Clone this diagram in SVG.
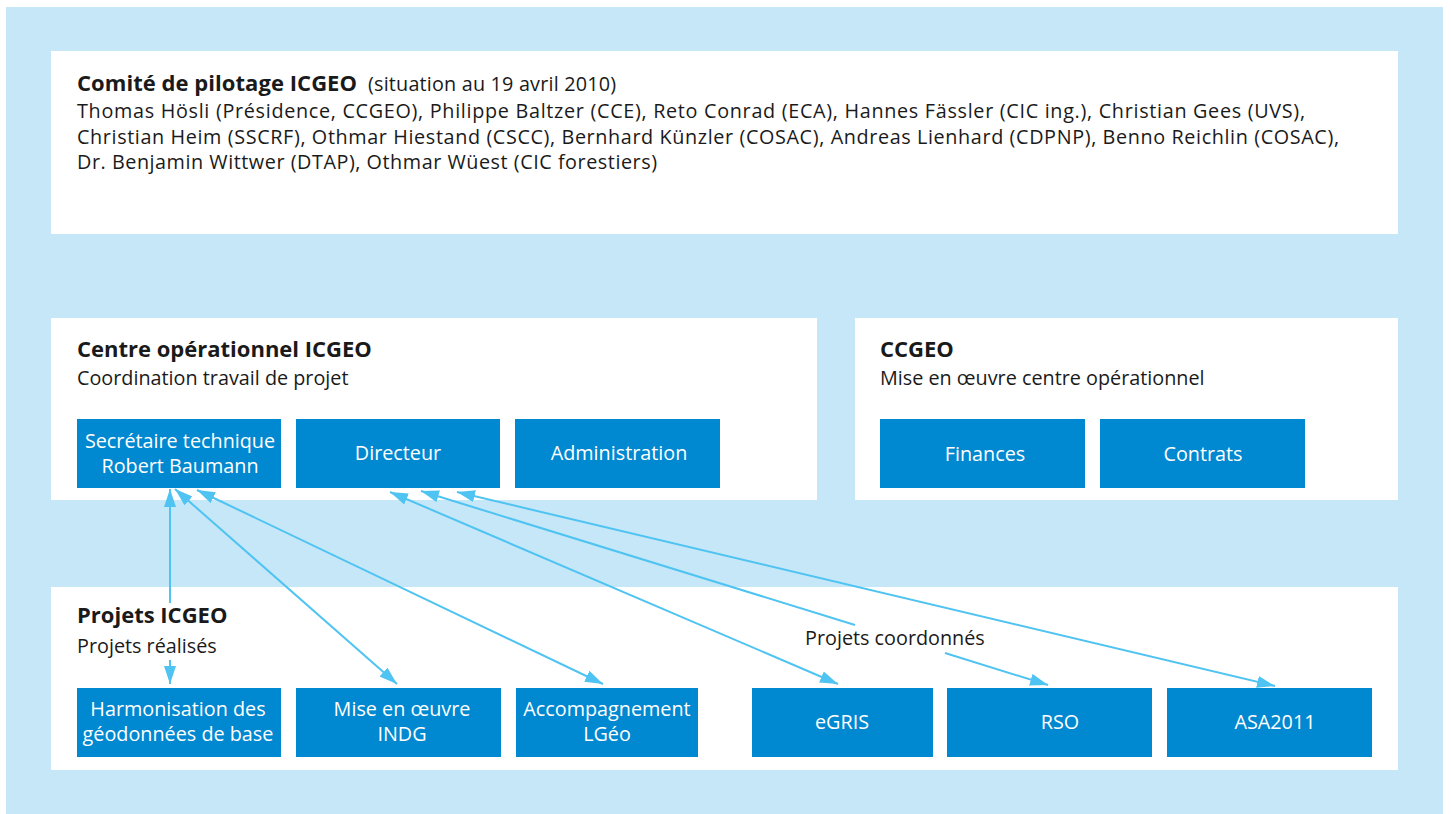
<svg xmlns="http://www.w3.org/2000/svg" width="1451" height="814" viewBox="0 0 1451 814">
<style>
  .panel { fill: #ffffff; }
  .box { fill: #0088d0; }
  .t { font-family: "Open Sans", "Noto Sans", "Liberation Sans", sans-serif; fill: #1a1a1a; font-size: 19.8px; }
  .h { font-weight: bold; font-size: 22px; }
  .bt { font-family: "Open Sans", "Noto Sans", "Liberation Sans", sans-serif; fill: #ffffff; font-size: 19.8px; text-anchor: middle; }
  .conn { fill: none; stroke: #4fc3f1; stroke-width: 2; marker-start: url(#ah); marker-end: url(#ah); }
</style>
<defs>
  <marker id="ah" markerUnits="userSpaceOnUse" markerWidth="19" markerHeight="13" refX="18" refY="6.5" orient="auto-start-reverse" viewBox="0 0 19 13">
    <path d="M0,0.5 L18,6.5 L0,12.5 z" fill="#4fc3f1"/>
  </marker>
</defs>
<rect x="6" y="7" width="1437" height="807" fill="#c5e7f8"/>

<g id="comite">
  <rect class="panel" x="51" y="51" width="1347" height="183"/>
  <text class="t" x="77" y="91"><tspan font-weight="bold" font-size="22" textLength="280">Comité de pilotage ICGEO</tspan><tspan x="368" textLength="248">(situation au 19 avril 2010)</tspan></text>
  <text class="t" x="77" y="118" textLength="1228">Thomas Hösli (Présidence, CCGEO), Philippe Baltzer (CCE), Reto Conrad (ECA), Hannes Fässler (CIC ing.), Christian Gees (UVS),</text>
  <text class="t" x="77" y="144" textLength="1262">Christian Heim (SSCRF), Othmar Hiestand (CSCC), Bernhard Künzler (COSAC), Andreas Lienhard (CDPNP), Benno Reichlin (COSAC),</text>
  <text class="t" x="77" y="169" textLength="580">Dr. Benjamin Wittwer (DTAP), Othmar Wüest (CIC forestiers)</text>
</g>

<g id="centre">
  <rect class="panel" x="51" y="318" width="766" height="182"/>
  <text class="t h" x="77" y="357">Centre opérationnel ICGEO</text>
  <text class="t" x="77" y="385">Coordination travail de projet</text>
</g>
<g id="secretaire">
  <rect class="box" x="77" y="419" width="204" height="69"/>
  <text class="bt"><tspan x="180" y="448">Secrétaire technique</tspan><tspan x="180" y="473">Robert Baumann</tspan></text>
</g>
<g id="directeur">
  <rect class="box" x="296" y="419" width="204" height="69"/>
  <text class="bt" x="398" y="460">Directeur</text>
</g>
<g id="administration">
  <rect class="box" x="515" y="419" width="205" height="69"/>
  <text class="bt" x="619" y="460">Administration</text>
</g>

<g id="ccgeo">
  <rect class="panel" x="855" y="318" width="543" height="182"/>
  <text class="t h" x="880" y="357">CCGEO</text>
  <text class="t" x="880" y="385">Mise en œuvre centre opérationnel</text>
</g>
<g id="finances">
  <rect class="box" x="880" y="419" width="205" height="69"/>
  <text class="bt" x="985" y="461">Finances</text>
</g>
<g id="contrats">
  <rect class="box" x="1100" y="419" width="205" height="69"/>
  <text class="bt" x="1203" y="461">Contrats</text>
</g>

<g id="projets">
  <rect class="panel" x="51" y="587" width="1347" height="183"/>
  <text class="t h" x="77" y="623">Projets ICGEO</text>
  <text class="t" x="77" y="653">Projets réalisés</text>
  <text class="t" x="805" y="645">Projets coordonnés</text>
</g>
<g id="harmonisation">
  <rect class="box" x="77" y="688" width="204" height="69"/>
  <text class="bt"><tspan x="178" y="716">Harmonisation des</tspan><tspan x="178" y="741">géodonnées de base</tspan></text>
</g>
<g id="indg">
  <rect class="box" x="296" y="688" width="205" height="69"/>
  <text class="bt"><tspan x="402" y="716">Mise en œuvre</tspan><tspan x="402" y="741">INDG</tspan></text>
</g>
<g id="lgeo">
  <rect class="box" x="516" y="688" width="182" height="69"/>
  <text class="bt"><tspan x="607" y="716">Accompagnement</tspan><tspan x="607" y="741">LGéo</tspan></text>
</g>
<g id="egris">
  <rect class="box" x="752" y="688" width="181" height="69"/>
  <text class="bt" x="842" y="729">eGRIS</text>
</g>
<g id="rso">
  <rect class="box" x="947" y="688" width="205" height="69"/>
  <text class="bt" x="1060" y="729">RSO</text>
</g>
<g id="asa2011">
  <rect class="box" x="1167" y="688" width="205" height="69"/>
  <text class="bt" x="1275" y="729">ASA2011</text>
</g>

<g id="connectors">
  <path class="conn" d="M170,489 V603 M170,660 V684"/>
  <path class="conn" d="M175,489 L397,684"/>
  <path class="conn" d="M197,490 L603,684"/>
  <path class="conn" d="M390,492 L838,684"/>
  <path class="conn" d="M421,491 L855,625 M945,653 L1048,685"/>
  <path class="conn" d="M457,492 L1275,686"/>
</g>
</svg>
